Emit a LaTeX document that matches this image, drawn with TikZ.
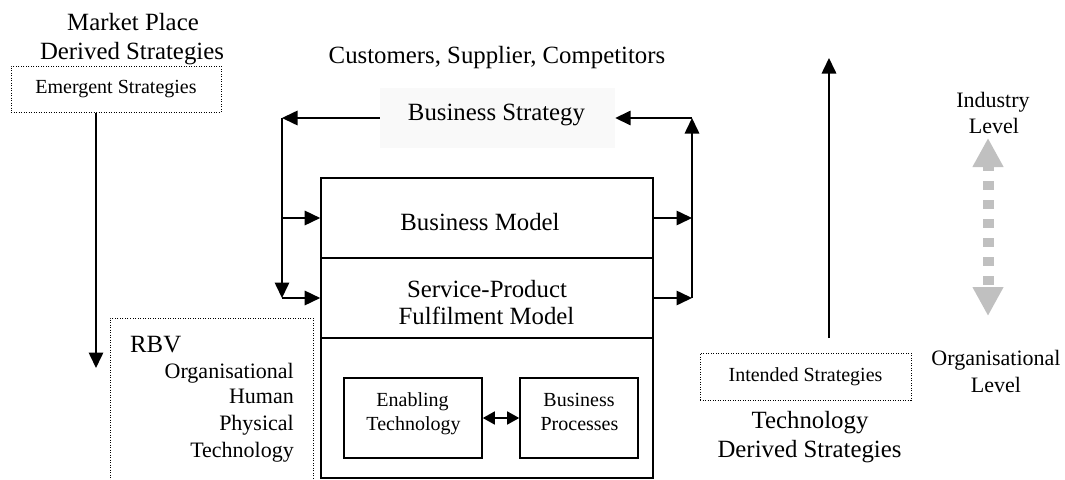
\documentclass[tikz,border=0pt]{standalone}
\usepackage{fontspec}
\setmainfont{Liberation Serif}
\usetikzlibrary{arrows.meta}
\definecolor{bsbg}{HTML}{F9F9F9}
\definecolor{lvgray}{HTML}{C0C0C0}
\begin{document}
\begin{tikzpicture}[x=1pt,y=-1pt,
 big/.style={font=\fontsize{24.8}{29}\selectfont, inner sep=0pt, anchor=base},
 mid/.style={font=\fontsize{22}{26}\selectfont, inner sep=0pt, anchor=base},
 small/.style={font=\fontsize{20}{24}\selectfont, inner sep=0pt, anchor=base},
 dotbox/.style={draw, line width=1pt, dash pattern=on 1pt off 1.5pt, inner sep=0pt, font=\fontsize{20}{24}\selectfont},
 solidbox/.style={draw, line width=1.6pt, inner sep=0pt},
 conn/.style={line width=1.6pt},
 arr/.style={conn, -{Triangle[length=15.5pt,width=14.5pt]}},
 dblarr/.style={conn, {Triangle[length=12pt,width=13pt]}-{Triangle[length=12pt,width=13pt]}},
 levelarr/.style={lvgray, line width=11pt, dash pattern=on 9pt off 10pt, dash phase=3pt,
   {Triangle[length=29pt,width=29pt]}-{Triangle[length=29pt,width=29pt]}},
]
\useasboundingbox (0,0) rectangle (1065,479);

% left top: market place
\node[big] (mp1) at (133,30) {Market Place};
\node[big] (mp2) at (132,59) {Derived Strategies};
\node[dotbox, minimum width=210pt, minimum height=46pt] (emb) at (116,89) {Emergent Strategies};
\coordinate (la) at (96,368);
\draw[arr] (la |- emb.south) -- (la);

% top centre
\node[big] (cust) at (497,63) {Customers, Supplier, Competitors};
\node[fill=bsbg, minimum width=235pt, minimum height=60pt, inner sep=0pt] (bsbg) at (497.5,118) {};
\node[big] (bs) at (496.5,120) {Business Strategy};

% main stacked box
\node[solidbox, minimum width=332pt, minimum height=80pt] (bm) at (487,218) {};
\node[solidbox, minimum width=332pt, minimum height=80pt] (sp) at (487,298) {};
\node[solidbox, minimum width=332pt, minimum height=140pt] (lo) at (487,408) {};
\node[big] (bmt) at (480,230) {Business Model};
\node[big] (spt1) at (487,297) {Service-Product};
\node[big] (spt2) at (486.5,324) {Fulfilment Model};

% inner boxes
\node[solidbox, minimum width=138pt, minimum height=80pt] (en) at (413,418) {};
\node[solidbox, minimum width=118pt, minimum height=80pt] (bp) at (579,418) {};
\node[small] (ent1) at (412.5,406) {Enabling};
\node[small] (ent2) at (413.5,430) {Technology};
\node[small] (bpt1) at (579,406) {Business};
\node[small] (bpt2) at (579.5,430) {Processes};
\draw[dblarr] (en.east) -- (bp.west);

% left feedback loop
\coordinate (lt) at (282,118);
\coordinate (lm) at (282,218);
\coordinate (lb) at (282,298);
\draw[arr] (bsbg.west) -- (lt);
\draw[arr] (lt) -- (lb);
\draw[arr] (lm) -- (bm.west);
\draw[arr] (lb) -- (sp.west);

% right feedback loop
\coordinate (rt) at (692,118);
\coordinate (rm) at (692,218);
\coordinate (rb) at (692,298);
\draw[arr] (bm.east) -- (rm);
\draw[arr] (sp.east) -- (rb);
\draw[arr] (rb) -- (rt);
\draw[arr] (rt) -- (bsbg.east);

% RBV
\node[dotbox, minimum width=203pt, minimum height=200pt] (rbv) at (211.5,418) {};
\node[big, anchor=base west] (rbvt) at (130,352) {RBV};
\node[mid, anchor=base east] (r1) at (294,378) {Organisational};
\node[mid, anchor=base east] (r2) at (294,403) {Human};
\node[mid, anchor=base east] (r3) at (294,430) {Physical};
\node[mid, anchor=base east] (r4) at (294,457) {Technology};

% technology derived strategies
\coordinate (ta0) at (829,338);
\coordinate (ta1) at (829,58);
\draw[arr] (ta0) -- (ta1);
\node[dotbox, minimum width=211pt, minimum height=47pt] (ib) at (805.5,376.5) {Intended Strategies};
\node[big] (td1) at (810,428) {Technology};
\node[big] (td2) at (809.5,457) {Derived Strategies};

% levels
\node[mid] (il1) at (993,107) {Industry};
\node[mid] (il2) at (994,133) {Level};
\node[mid] (ol1) at (996,365) {Organisational};
\node[mid] (ol2) at (996,392) {Level};
\coordinate (gt) at (988,138);
\coordinate (gb) at (988,316);
\draw[levelarr] (gt) -- (gb);
\end{tikzpicture}
\end{document}
